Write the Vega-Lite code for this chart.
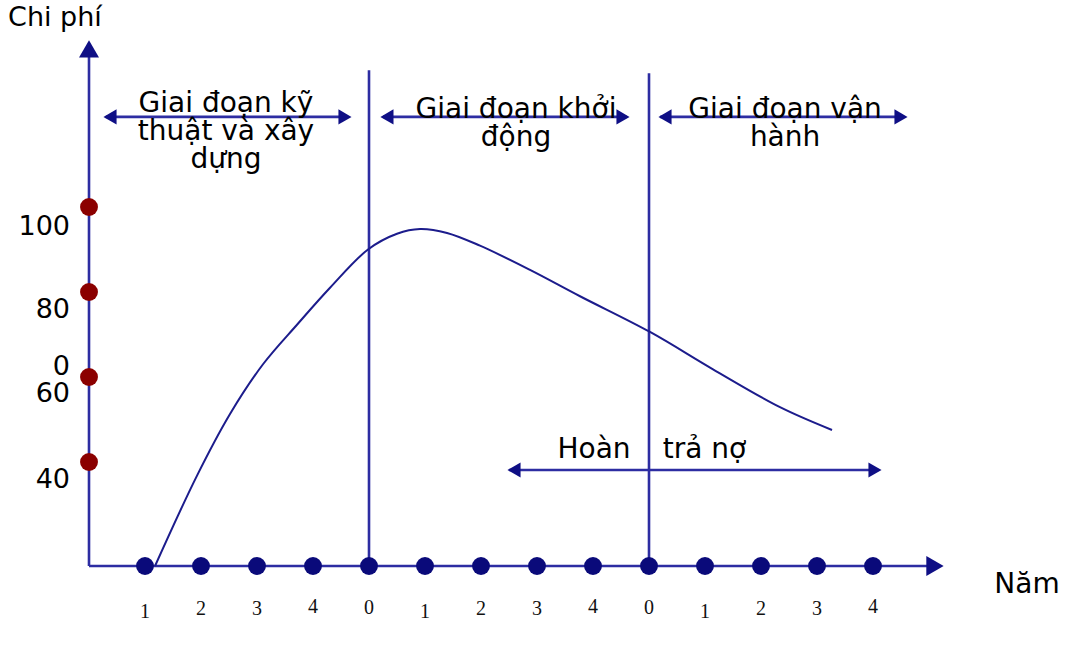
{
  "$schema": "https://vega.github.io/schema/vega-lite/v6.json",
  "width": 1080,
  "height": 657,
  "autosize": {"type": "fit", "contains": "padding"},
  "padding": 0,
  "background": "white",
  "config": {"view": {"stroke": null}, "text": {"lineBreak": "\n"}},
  "datasets": {
    "rules": [
      {"part": "y-axis", "x": 0, "y": 15.53, "x2": 0, "y2": 135.5},
      {"part": "x-axis", "x": 0, "y": 15.53, "x2": 14.98, "y2": 15.53},
      {"part": "divider", "x": 5, "y": 15.53, "x2": 5, "y2": 132.2},
      {"part": "divider", "x": 10, "y": 15.53, "x2": 10, "y2": 131.5},
      {"part": "phase", "x": 0.3, "y": 121.2, "x2": 4.6, "y2": 121.2},
      {"part": "phase", "x": 5.25, "y": 121.2, "x2": 9.6, "y2": 121.2},
      {"part": "phase", "x": 10.2, "y": 121.2, "x2": 14.55, "y2": 121.2},
      {"part": "debt", "x": 7.5, "y": 38.12, "x2": 14.1, "y2": 38.12}
    ],
    "heads": [
      {"group": "small", "dir": "left", "x": 0.375, "y": 121.2},
      {"group": "small", "dir": "right", "x": 4.571, "y": 121.2},
      {"group": "small", "dir": "left", "x": 5.32, "y": 121.2},
      {"group": "small", "dir": "right", "x": 9.536, "y": 121.2},
      {"group": "small", "dir": "left", "x": 10.286, "y": 121.2},
      {"group": "small", "dir": "right", "x": 14.5, "y": 121.2},
      {"group": "small", "dir": "left", "x": 7.589, "y": 38.12},
      {"group": "small", "dir": "right", "x": 14.036, "y": 38.12},
      {"group": "axis", "dir": "up", "x": 0, "y": 137.2},
      {"group": "axis", "dir": "right", "x": 15.107, "y": 15.53}
    ],
    "yearDots": [
      {"x": 1, "y": 15.53}, {"x": 2, "y": 15.53}, {"x": 3, "y": 15.53}, {"x": 4, "y": 15.53},
      {"x": 5, "y": 15.53}, {"x": 6, "y": 15.53}, {"x": 7, "y": 15.53}, {"x": 8, "y": 15.53},
      {"x": 9, "y": 15.53}, {"x": 10, "y": 15.53}, {"x": 11, "y": 15.53}, {"x": 12, "y": 15.53},
      {"x": 13, "y": 15.53}, {"x": 14, "y": 15.53}
    ],
    "costDots": [
      {"x": 0, "y": 40}, {"x": 0, "y": 60}, {"x": 0, "y": 80}, {"x": 0, "y": 100}
    ],
    "curve": [
      {"x": 1.179, "y": 15.53},
      {"x": 1.929, "y": 36.8},
      {"x": 2.518, "y": 51.3},
      {"x": 3.107, "y": 63.0},
      {"x": 3.714, "y": 72.3},
      {"x": 4.304, "y": 81.0},
      {"x": 4.982, "y": 90.0},
      {"x": 5.5, "y": 93.7},
      {"x": 5.911, "y": 94.82},
      {"x": 6.393, "y": 93.9},
      {"x": 6.982, "y": 90.9},
      {"x": 7.875, "y": 85.2},
      {"x": 8.768, "y": 79.0},
      {"x": 10.018, "y": 70.59},
      {"x": 11.143, "y": 61.8},
      {"x": 12.339, "y": 52.9},
      {"x": 13.268, "y": 47.53}
    ],
    "centerText": [
      {"x": 2.446, "y": 122.35, "text": "Giai đoạn kỹ\nthuật và xây\ndựng"},
      {"x": 7.625, "y": 121.0, "text": "Giai đoạn khởi\nđộng"},
      {"x": 12.43, "y": 121.0, "text": "Giai đoạn vận\nhành"},
      {"x": 9.018, "y": 40.94, "text": "Hoàn"},
      {"x": 10.99, "y": 40.94, "text": "trả nợ"},
      {"x": 16.75, "y": 9.18, "text": "Năm"}
    ],
    "leftText": [
      {"x": -1.446, "y": 142.6, "text": "Chi phí"}
    ],
    "yLabels": [
      {"x": -0.339, "y": 93.4, "text": "100"},
      {"x": -0.339, "y": 73.9, "text": "80"},
      {"x": -0.339, "y": 60.47, "text": "0"},
      {"x": -0.339, "y": 54.1, "text": "60"},
      {"x": -0.339, "y": 33.9, "text": "40"}
    ],
    "xLabels": [
      {"x": 1, "y": 4.6, "text": "1"}, {"x": 2, "y": 5.4, "text": "2"}, {"x": 3, "y": 5.4, "text": "3"},
      {"x": 4, "y": 6.0, "text": "4"}, {"x": 5, "y": 5.7, "text": "0"}, {"x": 6, "y": 4.6, "text": "1"},
      {"x": 7, "y": 5.4, "text": "2"}, {"x": 8, "y": 5.4, "text": "3"}, {"x": 9, "y": 6.0, "text": "4"},
      {"x": 10, "y": 5.7, "text": "0"}, {"x": 11, "y": 4.6, "text": "1"}, {"x": 12, "y": 5.4, "text": "2"},
      {"x": 13, "y": 5.4, "text": "3"}, {"x": 14, "y": 6.0, "text": "4"}
    ]
  },
  "encoding": {
    "x": {"field": "x", "type": "quantitative", "axis": null,
          "scale": {"domain": [-1.5893, 17.6964], "nice": false, "zero": false}},
    "y": {"field": "y", "type": "quantitative", "axis": null,
          "scale": {"domain": [-5.882, 148.706], "nice": false, "zero": false}}
  },
  "layer": [
    {
      "data": {"name": "rules"},
      "mark": {"type": "rule", "color": "#2d2da2", "strokeWidth": 2.6},
      "encoding": {
        "x2": {"field": "x2"},
        "y2": {"field": "y2"}
      }
    },
    {
      "data": {"name": "curve"},
      "mark": {"type": "line", "color": "#1c1c8c", "strokeWidth": 2, "interpolate": "catmull-rom"},
      "encoding": {"order": {"field": "x", "type": "quantitative"}}
    },
    {
      "data": {"name": "heads"},
      "transform": [{"filter": "datum.group === 'small'"}],
      "mark": {"type": "point", "filled": true, "color": "#0f0f85", "opacity": 1, "size": 230},
      "encoding": {
        "shape": {"field": "dir", "type": "nominal", "legend": null,
                  "scale": {"domain": ["left", "right", "up"], "range": ["triangle-left", "triangle-right", "triangle-up"]}}
      }
    },
    {
      "data": {"name": "heads"},
      "transform": [{"filter": "datum.group === 'axis'"}],
      "mark": {"type": "point", "filled": true, "color": "#0f0f85", "opacity": 1, "size": 400},
      "encoding": {
        "shape": {"field": "dir", "type": "nominal", "legend": null,
                  "scale": {"domain": ["left", "right", "up"], "range": ["triangle-left", "triangle-right", "triangle-up"]}}
      }
    },
    {
      "data": {"name": "yearDots"},
      "mark": {"type": "point", "filled": true, "shape": "circle", "color": "#0a0a7a", "opacity": 1, "size": 320}
    },
    {
      "data": {"name": "costDots"},
      "mark": {"type": "point", "filled": true, "shape": "circle", "color": "#8b0000", "opacity": 1, "size": 320}
    },
    {
      "data": {"name": "centerText"},
      "mark": {"type": "text", "align": "center", "baseline": "alphabetic", "font": "DejaVu Sans", "fontSize": 28, "lineHeight": 28, "color": "#000000"},
      "encoding": {"text": {"field": "text"}}
    },
    {
      "data": {"name": "leftText"},
      "mark": {"type": "text", "align": "left", "baseline": "alphabetic", "font": "DejaVu Sans", "fontSize": 27, "color": "#000000"},
      "encoding": {"text": {"field": "text"}}
    },
    {
      "data": {"name": "yLabels"},
      "mark": {"type": "text", "align": "right", "baseline": "alphabetic", "font": "DejaVu Sans", "fontSize": 27, "color": "#000000"},
      "encoding": {"text": {"field": "text"}}
    },
    {
      "data": {"name": "xLabels"},
      "mark": {"type": "text", "align": "center", "baseline": "middle", "font": "Liberation Serif", "fontSize": 20, "color": "#111111"},
      "encoding": {"text": {"field": "text"}}
    }
  ]
}
